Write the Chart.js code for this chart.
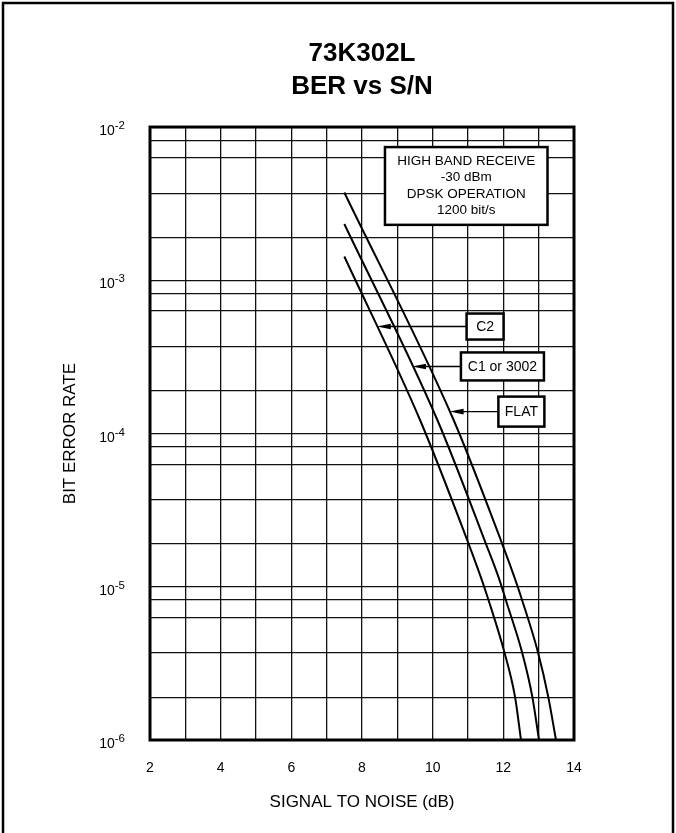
<!DOCTYPE html>
<html>
<head>
<meta charset="utf-8">
<title>73K302L BER vs S/N</title>
<script src="https://cdn.jsdelivr.net/npm/chart.js@4.4.1/dist/chart.umd.min.js"></script>
<style>
  html, body { margin: 0; padding: 0; background: #fff; }
  canvas { display: block; }
</style>
</head>
<body>
<canvas id="berChart" width="676" height="833"></canvas>
<script>
// Curves: S/N in dB, bit error rate
const c2Snr = [7.5, 9.64, 11.02, 11.39, 11.58, 12.03, 12.33, 12.5];
const c2Ber = [1.43e-3, 1.23e-4, 1.9e-5, 1.11e-5, 8.2e-6, 3.74e-6, 1.92e-6, 1.0e-6];

const c1Snr = [7.5, 10.13, 11.51, 11.89, 12.07, 12.53, 12.82, 13.01];
const c1Ber = [2.33e-3, 1.23e-4, 1.9e-5, 1.11e-5, 8.2e-6, 3.74e-6, 1.92e-6, 1.0e-6];

const flatSnr = [7.5, 10.59, 11.97, 12.34, 12.53, 12.98, 13.27, 13.49];
const flatBer = [3.74e-3, 1.23e-4, 1.9e-5, 1.11e-5, 8.2e-6, 3.74e-6, 1.92e-6, 1.0e-6];

const seriesNames = ["C2", "C1 or 3002", "FLAT"];

// axis ticks
const snrLabels = [2, 4, 6, 8, 10, 12, 14];
const berDecades = [1e-6, 1e-5, 1e-4, 1e-3, 1e-2];
const gridSteps = [1.9, 3.7, 6.3, 8.2]; // the uneven minor lines inside each decade

const noteLines = ["HIGH BAND RECEIVE", "-30 dBm", "DPSK OPERATION", "1200 bit/s"];

const FONT = "'Liberation Sans', Arial, Helvetica, sans-serif";
Chart.defaults.font.family = FONT;
Chart.defaults.color = "#000";

// where the callout boxes sit (data units) and the BER level their arrow points at
const noteBox = { left: 8.65, right: 13.25, top: 7.4e-3, bottom: 2.3e-3 };
const callouts = [
  { series: 0, ber: 4.99e-4, boxLeft: 10.96, w: 37, h: 26 },
  { series: 1, ber: 2.74e-4, boxLeft: 10.80, w: 83, h: 28 },
  { series: 2, ber: 1.39e-4, boxLeft: 11.86, w: 46, h: 30 },
];

function toPoints(xs, ys) {
  return xs.map((x, i) => ({ x: x, y: ys[i] }));
}

// snr where a curve crosses a given ber (straight segments in log space)
function snrAt(xs, ys, ber) {
  const t = Math.log10(ber);
  for (let i = 0; i < xs.length - 1; i++) {
    const a = Math.log10(ys[i]), b = Math.log10(ys[i + 1]);
    if (t <= a && t >= b) {
      return xs[i] + (xs[i + 1] - xs[i]) * (a - t) / (a - b);
    }
  }
  return xs[0];
}

const seriesSnr = [c2Snr, c1Snr, flatSnr];
const seriesBer = [c2Ber, c1Ber, flatBer];

const decor = {
  id: "decor",
  beforeDraw(chart) {
    const ctx = chart.ctx, w = chart.width, h = chart.height;
    ctx.save();
    ctx.fillStyle = "#fff";
    ctx.fillRect(0, 0, w, h);
    // page frame, open at the bottom
    ctx.strokeStyle = "#000";
    ctx.lineWidth = 2.5;
    ctx.beginPath();
    ctx.moveTo(3, h);
    ctx.lineTo(3, 3);
    ctx.lineTo(w - 3, 3);
    ctx.lineTo(w - 3, h);
    ctx.stroke();
    ctx.restore();
  },
  afterDatasetsDraw(chart) {
    const ctx = chart.ctx, a = chart.chartArea;
    const xs = chart.scales.x, ys = chart.scales.y;
    ctx.save();
    ctx.strokeStyle = "#000";
    ctx.lineWidth = 3;
    ctx.strokeRect(a.left, a.top, a.right - a.left, a.bottom - a.top);

    // condition box
    const bl = xs.getPixelForValue(noteBox.left), br = xs.getPixelForValue(noteBox.right);
    const bt = ys.getPixelForValue(noteBox.top), bb = ys.getPixelForValue(noteBox.bottom);
    ctx.fillStyle = "#fff";
    ctx.fillRect(bl, bt, br - bl, bb - bt);
    ctx.lineWidth = 2.5;
    ctx.strokeRect(bl, bt, br - bl, bb - bt);
    ctx.fillStyle = "#000";
    ctx.font = "13.5px " + FONT;
    ctx.textAlign = "center";
    ctx.textBaseline = "middle";
    const step = 16.4, mid = (bt + bb) / 2;
    noteLines.forEach((t, i) => {
      ctx.fillText(t, (bl + br) / 2, mid + (i - (noteLines.length - 1) / 2) * step);
    });

    // series callouts with arrows
    callouts.forEach(c => {
      const py = ys.getPixelForValue(c.ber);
      const tip = xs.getPixelForValue(snrAt(seriesSnr[c.series], seriesBer[c.series], c.ber));
      const left = xs.getPixelForValue(c.boxLeft);
      ctx.lineWidth = 1.4;
      ctx.beginPath();
      ctx.moveTo(left, py);
      ctx.lineTo(tip + 12, py);
      ctx.stroke();
      ctx.beginPath();
      ctx.moveTo(tip, py);
      ctx.lineTo(tip + 14, py - 2.8);
      ctx.lineTo(tip + 14, py + 2.8);
      ctx.closePath();
      ctx.fill();
      ctx.fillStyle = "#fff";
      ctx.fillRect(left, py - c.h / 2, c.w, c.h);
      ctx.lineWidth = 2.5;
      ctx.strokeRect(left, py - c.h / 2, c.w, c.h);
      ctx.fillStyle = "#000";
      ctx.font = "14px " + FONT;
      ctx.fillText(seriesNames[c.series], left + c.w / 2, py + 1);
    });
    ctx.restore();
  },
  afterDraw(chart) {
    // y tick labels as 10 with a raised exponent
    const ctx = chart.ctx, ys = chart.scales.y;
    const right = chart.chartArea.left - 25;
    ctx.save();
    ctx.fillStyle = "#000";
    ctx.textBaseline = "alphabetic";
    berDecades.forEach(v => {
      const py = ys.getPixelForValue(v);
      const exp = String(Math.round(Math.log10(v)));
      ctx.font = "11.5px " + FONT;
      const sw = ctx.measureText(exp).width;
      ctx.textAlign = "left";
      ctx.fillText(exp, right - sw, py + 2);
      ctx.font = "14px " + FONT;
      ctx.textAlign = "right";
      ctx.fillText("10", right - sw, py + 8);
    });
    ctx.restore();
  }
};

const ctx = document.getElementById("berChart").getContext("2d");

new Chart(ctx, {
  type: "line",
  data: {
    datasets: seriesNames.map((name, i) => ({
      label: name,
      data: toPoints(seriesSnr[i], seriesBer[i]),
      borderColor: "#000",
      borderWidth: 2,
      pointRadius: 0,
      fill: false,
      cubicInterpolationMode: "monotone",
    })),
  },
  options: {
    responsive: false,
    devicePixelRatio: 1,
    animation: false,
    layout: { padding: { top: 5, left: 0, right: 102, bottom: 0 } },
    plugins: {
      legend: { display: false },
      tooltip: { enabled: false },
      title: {
        display: true,
        fullSize: false,
        text: ["73K302L", "BER vs S/N"],
        color: "#000",
        font: { size: 26, weight: "bold", lineHeight: 1.27 },
        padding: { top: 32.5, bottom: 23.5 },
      },
    },
    scales: {
      x: {
        type: "linear",
        min: 2,
        max: 14,
        grid: { color: "#111", lineWidth: 1.3, drawTicks: false },
        border: { display: false },
        ticks: {
          stepSize: 1,
          autoSkip: false,
          maxRotation: 0,
          padding: 19.6,
          font: { size: 14 },
          callback: v => (snrLabels.includes(v) ? v : ""),
        },
        title: {
          display: true,
          text: "SIGNAL TO NOISE (dB)",
          font: { size: 17 },
          padding: { top: 0, bottom: 20.8 },
        },
        afterFit: s => { s.height = 93; },
      },
      y: {
        type: "logarithmic",
        min: 1e-6,
        max: 1e-2,
        grid: { color: "#111", lineWidth: 1.3, drawTicks: false },
        border: { display: false },
        ticks: { display: false },
        afterBuildTicks: scale => {
          const vals = [];
          berDecades.forEach((d, i) => {
            vals.push(d);
            if (i < berDecades.length - 1) gridSteps.forEach(m => vals.push(d * m));
          });
          scale.ticks = vals.map(v => ({ value: v }));
        },
        title: {
          display: true,
          text: "BIT ERROR RATE",
          font: { size: 17 },
          padding: { top: 59.8, bottom: 0 },
        },
        afterFit: s => { s.width = 150; },
      },
    },
  },
  plugins: [decor],
});
</script>
</body>
</html>
